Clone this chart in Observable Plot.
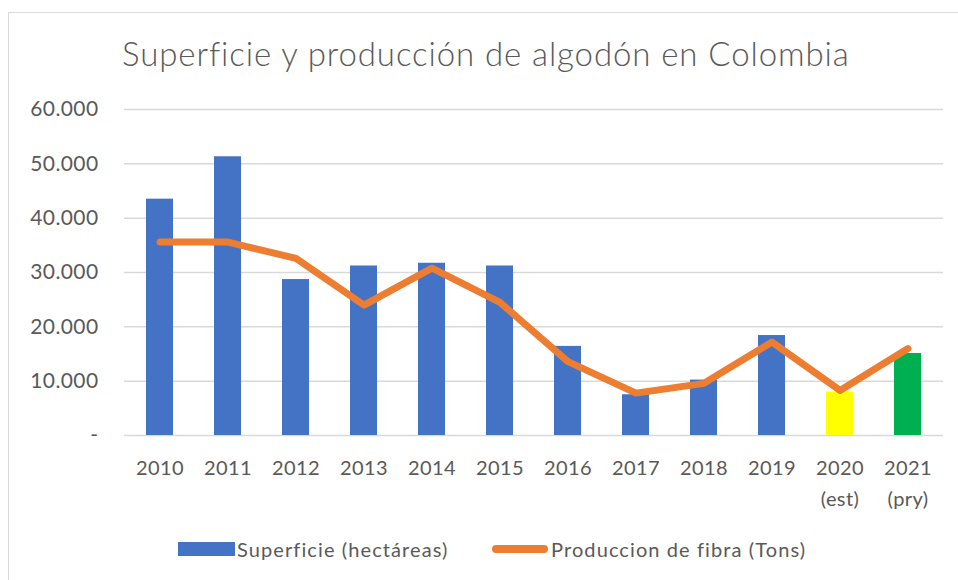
<!DOCTYPE html>
<html>
<head>
<meta charset="utf-8">
<script src="https://cdn.jsdelivr.net/npm/d3@7"></script>
<script src="https://cdn.jsdelivr.net/npm/@observablehq/plot@0.6"></script>
<style>
  html, body { margin: 0; padding: 0; background: #fff; overflow: hidden; }
  #wrap { position: relative; width: 958px; height: 580px; overflow: hidden; font-family: Lato, sans-serif; color: #595959; }
  #frame { position: absolute; left: 8px; top: 12px; width: 1000px; height: 700px; border: 1.5px solid #d9d9d9; box-sizing: border-box; }
  #title { position: absolute; left: 122px; top: 37px; font-size: 33px; font-weight: 300; letter-spacing: 0.9px; line-height: 1; white-space: nowrap; }
  #chart { position: absolute; left: 0; top: 80px; }
  #legend { position: absolute; top: 537px; left: 0; width: 958px; height: 24px; font-size: 20px; line-height: 24px; white-space: nowrap; letter-spacing: 1.1px; }
  .sw1 { position: absolute; left: 178px; top: 5px; width: 57px; height: 14px; background: #4472C4; }
  .t1 { position: absolute; left: 237px; top: 0; }
  .sw2 { position: absolute; left: 492px; top: 8px; width: 56px; height: 8px; border-radius: 4px; background: #ED7D31; }
  .t2 { position: absolute; left: 551px; top: 0; }
</style>
</head>
<body>
<div id="wrap">
  <div id="frame"></div>
  <div id="title">Superficie y producción de algodón en Colombia</div>
  <div id="chart"></div>
  <div id="legend">
    <span class="sw1"></span><span class="t1">Superficie (hectáreas)</span>
    <span class="sw2"></span><span class="t2">Produccion de fibra (Tons)</span>
  </div>
</div>
<script>
const years = ["2010","2011","2012","2013","2014","2015","2016","2017","2018","2019","2020","2021"];
const yearLabels = ["2010","2011","2012","2013","2014","2015","2016","2017","2018","2019","2020\n(est)","2021\n(pry)"];
const superficie = [43500, 51300, 28700, 31200, 31700, 31200, 16400, 7500, 10200, 18400, 8000, 15100];
const produccion = [35600, 35600, 32600, 24000, 30800, 24500, 13600, 7800, 9600, 17200, 8300, 16000];
const yTicks = [0, 10000, 20000, 30000, 40000, 50000, 60000];

const data = years.map((y, i) => ({year: y, sup: superficie[i], prod: produccion[i]}));
const barFill = d => d.year === "2020" ? "#FFFF00" : d.year === "2021" ? "#00B050" : "#4472C4";
const fmt = d => d === 0 ? "-" : d3.format(",")(d).replace(/,/g, ".");

const chart = Plot.plot({
  width: 958,
  height: 440,
  marginTop: 29,
  marginBottom: 85,
  marginLeft: 124,
  marginRight: 15,
  style: {fontFamily: "Lato, sans-serif", fontSize: "20px", color: "#595959", background: "transparent", letterSpacing: "0.4px"},
  x: {domain: years, paddingInner: 0.6, paddingOuter: 0.3, label: null},
  y: {domain: [0, 60000], label: null},
  marks: [
    Plot.gridY(yTicks, {stroke: "#d9d9d9", strokeOpacity: 1, strokeWidth: 1.5}),
    Plot.axisY(yTicks, {tickSize: 0, tickPadding: 26, tickFormat: fmt, fontSize: 21}),
    Plot.barY(data, {x: "year", y: "sup", fill: barFill}),
    Plot.lineY(data, {x: "year", y: "prod", stroke: "#ED7D31", strokeWidth: 7, strokeLinecap: "round", strokeLinejoin: "round"}),
    Plot.axisX({tickSize: 0, tickPadding: 17, tickFormat: d => yearLabels[years.indexOf(d)], lineHeight: 1.55, fontSize: 20})
  ]
});
document.getElementById("chart").appendChild(chart);
</script>
</body>
</html>
